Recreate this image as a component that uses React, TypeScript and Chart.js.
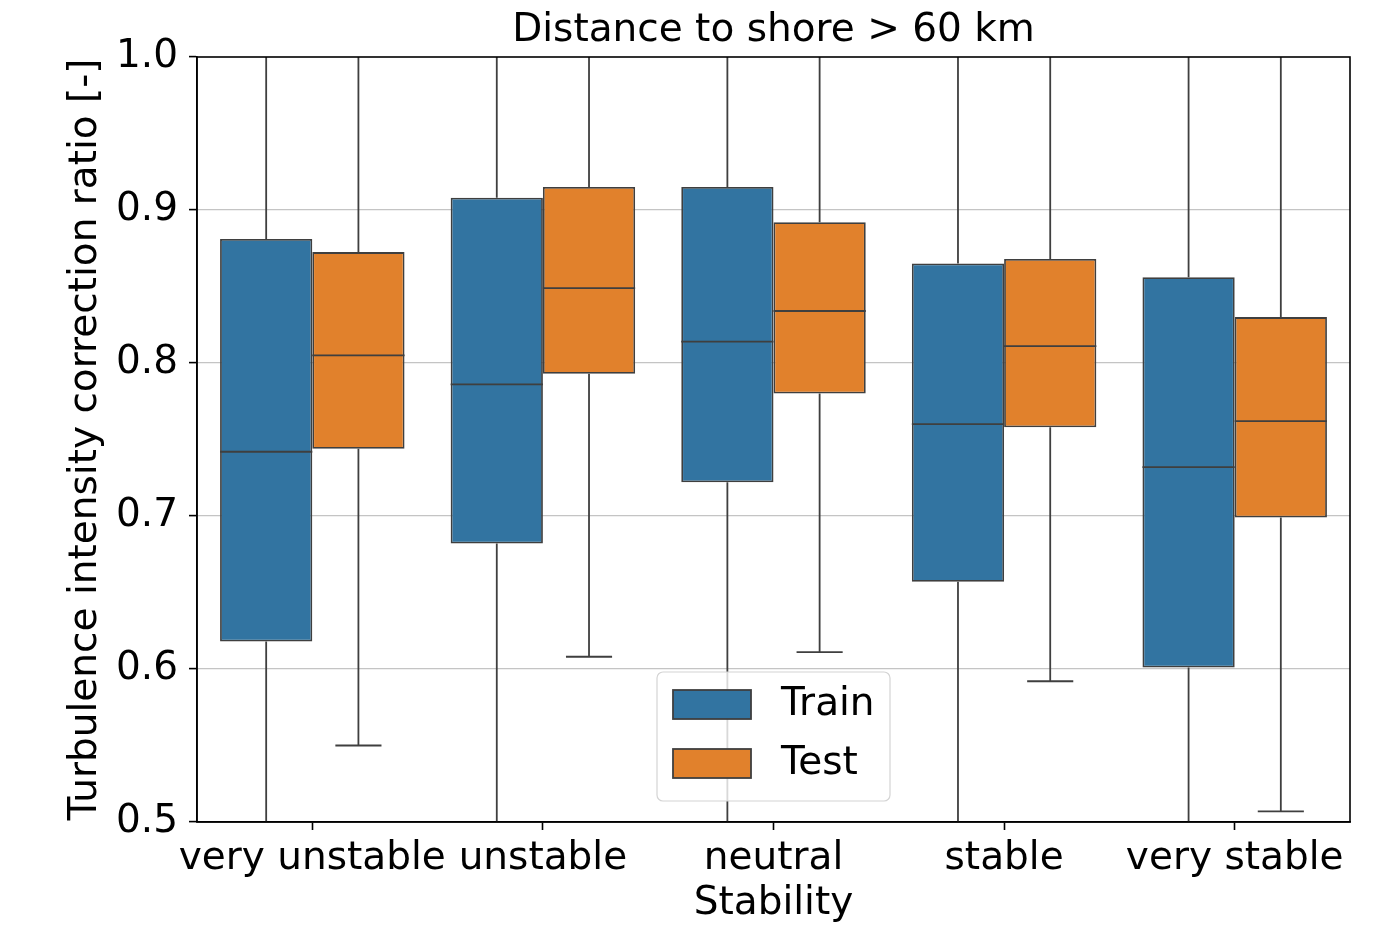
import React, { useEffect, useRef } from 'react';
import { Chart, registerables } from 'chart.js';

Chart.register(...registerables);

const categories = ['very unstable', 'unstable', 'neutral', 'stable', 'very stable'];
const seriesNames = ['Train', 'Test'];
const seriesColors = ['#3274a1', '#e1812c'];

const trainQ1 = [0.618, 0.682, 0.722, 0.657, 0.601];
const trainMedian = [0.742, 0.786, 0.814, 0.760, 0.732];
const trainQ3 = [0.881, 0.908, 0.915, 0.865, 0.856];
const trainWhiskerLow = [0.40, 0.42, 0.45, 0.40, 0.38];
const trainWhiskerHigh = [1.08, 1.09, 1.08, 1.07, 1.08];

const testQ1 = [0.744, 0.793, 0.780, 0.758, 0.699];
const testMedian = [0.805, 0.849, 0.834, 0.811, 0.762];
const testQ3 = [0.8725, 0.915, 0.892, 0.868, 0.830];
const testWhiskerLow = [0.550, 0.608, 0.611, 0.592, 0.507];
const testWhiskerHigh = [1.06, 1.08, 1.07, 1.06, 1.05];

const yTickValues = [0.5, 0.6, 0.7, 0.8, 0.9, 1.0];

const titleText = 'Distance to shore > 60 km';
const xTitle = 'Stability';
const yTitle = 'Turbulence intensity correction ratio [-]';

const FONT = 'DejaVu Sans';
const FS = 39;
const EDGE = '#3f3f3f';
const LW = 1.8;

const stats = [
  { q1: trainQ1, med: trainMedian, q3: trainQ3, lo: trainWhiskerLow, hi: trainWhiskerHigh },
  { q1: testQ1, med: testMedian, q3: testQ3, lo: testWhiskerLow, hi: testWhiskerHigh },
];

const boxPlotPlugin = {
  id: 'boxExtras',
  beforeDatasetsDraw(chart: any) {
    const { ctx, chartArea } = chart;
    const y = chart.scales.y;
    ctx.save();
    ctx.beginPath();
    ctx.rect(chartArea.left, chartArea.top, chartArea.right - chartArea.left, chartArea.bottom - chartArea.top);
    ctx.clip();
    ctx.strokeStyle = EDGE;
    ctx.lineWidth = LW;
    stats.forEach((s, i) => {
      const meta = chart.getDatasetMeta(i);
      meta.data.forEach((bar: any, j: number) => {
        const x = bar.x;
        const capHalf = bar.width / 4;
        const pQ1 = y.getPixelForValue(s.q1[j]);
        const pQ3 = y.getPixelForValue(s.q3[j]);
        const pLo = y.getPixelForValue(s.lo[j]);
        const pHi = y.getPixelForValue(s.hi[j]);
        ctx.beginPath();
        ctx.moveTo(x, pQ3);
        ctx.lineTo(x, pHi);
        ctx.moveTo(x, pQ1);
        ctx.lineTo(x, pLo);
        ctx.moveTo(x - capHalf, pLo);
        ctx.lineTo(x + capHalf, pLo);
        ctx.moveTo(x - capHalf, pHi);
        ctx.lineTo(x + capHalf, pHi);
        ctx.stroke();
      });
    });
    ctx.restore();
  },
  afterDatasetsDraw(chart: any) {
    const { ctx, chartArea } = chart;
    const y = chart.scales.y;
    ctx.save();
    ctx.strokeStyle = EDGE;
    ctx.lineWidth = LW;
    stats.forEach((s, i) => {
      const meta = chart.getDatasetMeta(i);
      meta.data.forEach((bar: any, j: number) => {
        const pMed = y.getPixelForValue(s.med[j]);
        ctx.beginPath();
        ctx.moveTo(bar.x - bar.width / 2, pMed);
        ctx.lineTo(bar.x + bar.width / 2, pMed);
        ctx.stroke();
      });
    });
    ctx.strokeStyle = '#000';
    ctx.lineWidth = 1.6;
    ctx.strokeRect(chartArea.left, chartArea.top, chartArea.right - chartArea.left, chartArea.bottom - chartArea.top);
    ctx.restore();
  },
  afterDraw(chart: any) {
    const { ctx, chartArea } = chart;
    const w = 233;
    const h = 129;
    const left = (chartArea.left + chartArea.right) / 2 - w / 2;
    const top = chartArea.bottom - 21 - h;
    ctx.save();
    ctx.beginPath();
    const r = 6;
    ctx.moveTo(left + r, top);
    ctx.lineTo(left + w - r, top);
    ctx.arcTo(left + w, top, left + w, top + r, r);
    ctx.lineTo(left + w, top + h - r);
    ctx.arcTo(left + w, top + h, left + w - r, top + h, r);
    ctx.lineTo(left + r, top + h);
    ctx.arcTo(left, top + h, left, top + h - r, r);
    ctx.lineTo(left, top + r);
    ctx.arcTo(left, top, left + r, top, r);
    ctx.closePath();
    ctx.fillStyle = 'rgba(255,255,255,0.8)';
    ctx.fill();
    ctx.strokeStyle = '#d4d4d4';
    ctx.lineWidth = 1.2;
    ctx.stroke();
    chart.data.datasets.forEach((ds: any, i: number) => {
      const py = top + 18 + i * 59;
      ctx.fillStyle = ds.backgroundColor;
      ctx.fillRect(left + 16, py, 78, 29);
      ctx.strokeStyle = EDGE;
      ctx.lineWidth = LW;
      ctx.strokeRect(left + 16, py, 78, 29);
      ctx.fillStyle = '#000';
      ctx.font = `${FS}px "${FONT}"`;
      ctx.textAlign = 'left';
      ctx.textBaseline = 'middle';
      ctx.fillText(ds.label, left + 124, py + 15);
    });
    ctx.restore();
  },
};

export default function App() {
  const canvasRef = useRef<HTMLCanvasElement | null>(null);

  useEffect(() => {
    const canvas = canvasRef.current;
    if (!canvas) return;
    const chart = new Chart(canvas, {
      type: 'bar',
      data: {
        labels: categories,
        datasets: stats.map((s, i) => ({
          label: seriesNames[i],
          data: s.q1.map((v, j) => [v, s.q3[j]]),
          backgroundColor: seriesColors[i],
          borderColor: EDGE,
          borderWidth: LW,
          borderSkipped: false,
          categoryPercentage: 0.8,
          barPercentage: 1.0,
        })) as any,
      },
      options: {
        responsive: false,
        animation: false,
        devicePixelRatio: 1,
        layout: { padding: { left: 0, right: 50, top: 0, bottom: 0 } },
        font: { family: FONT },
        plugins: {
          legend: { display: false },
          tooltip: { enabled: false },
          title: {
            display: true,
            text: titleText,
            fullSize: false,
            color: '#000',
            font: { family: FONT, size: FS, weight: 'normal' },
            padding: { top: 7, bottom: 3.2 },
          },
        },
        scales: {
          x: {
            type: 'category',
            grid: { display: true, drawOnChartArea: false, drawTicks: true, tickLength: 8, offset: false, tickColor: '#000', tickWidth: 1.6 },
            border: { display: true, color: '#000', width: 1.6 },
            ticks: { color: '#000', font: { family: FONT, size: FS }, padding: 5, maxRotation: 0, autoSkip: false },
            title: { display: true, text: xTitle, color: '#000', font: { family: FONT, size: FS }, padding: { top: 0, bottom: 0 } },
            afterFit: (scale: any) => { scale.height = 105; },
          },
          y: {
            min: 0.5,
            max: 1.0,
            afterBuildTicks: (scale: any) => { scale.ticks = yTickValues.map((v) => ({ value: v })); },
            grid: {
              color: (ctx: any) => (ctx.tick && (ctx.tick.value === 0.5 || ctx.tick.value === 1.0) ? 'rgba(0,0,0,0)' : '#c4c4c4'),
              lineWidth: 1.2,
              tickLength: 8,
              tickColor: '#000',
              tickWidth: 1.6,
            },
            border: { display: true, color: '#000', width: 1.6 },
            ticks: {
              color: '#000',
              font: { family: FONT, size: FS },
              padding: 11,
              callback: (v: any) => Number(v).toFixed(1),
            },
            title: { display: true, text: yTitle, color: '#000', font: { family: FONT, size: FS }, padding: { top: 62, bottom: 0 } },
            afterFit: (scale: any) => { scale.width = 197; },
          },
        },
      } as any,
      plugins: [boxPlotPlugin],
    });
    return () => chart.destroy();
  }, []);

  return (
    <div style={{ position: 'absolute', left: 0, top: 0, width: 1400, height: 927, background: '#fff' }}>
      <canvas ref={canvasRef} width={1400} height={927} />
    </div>
  );
}
